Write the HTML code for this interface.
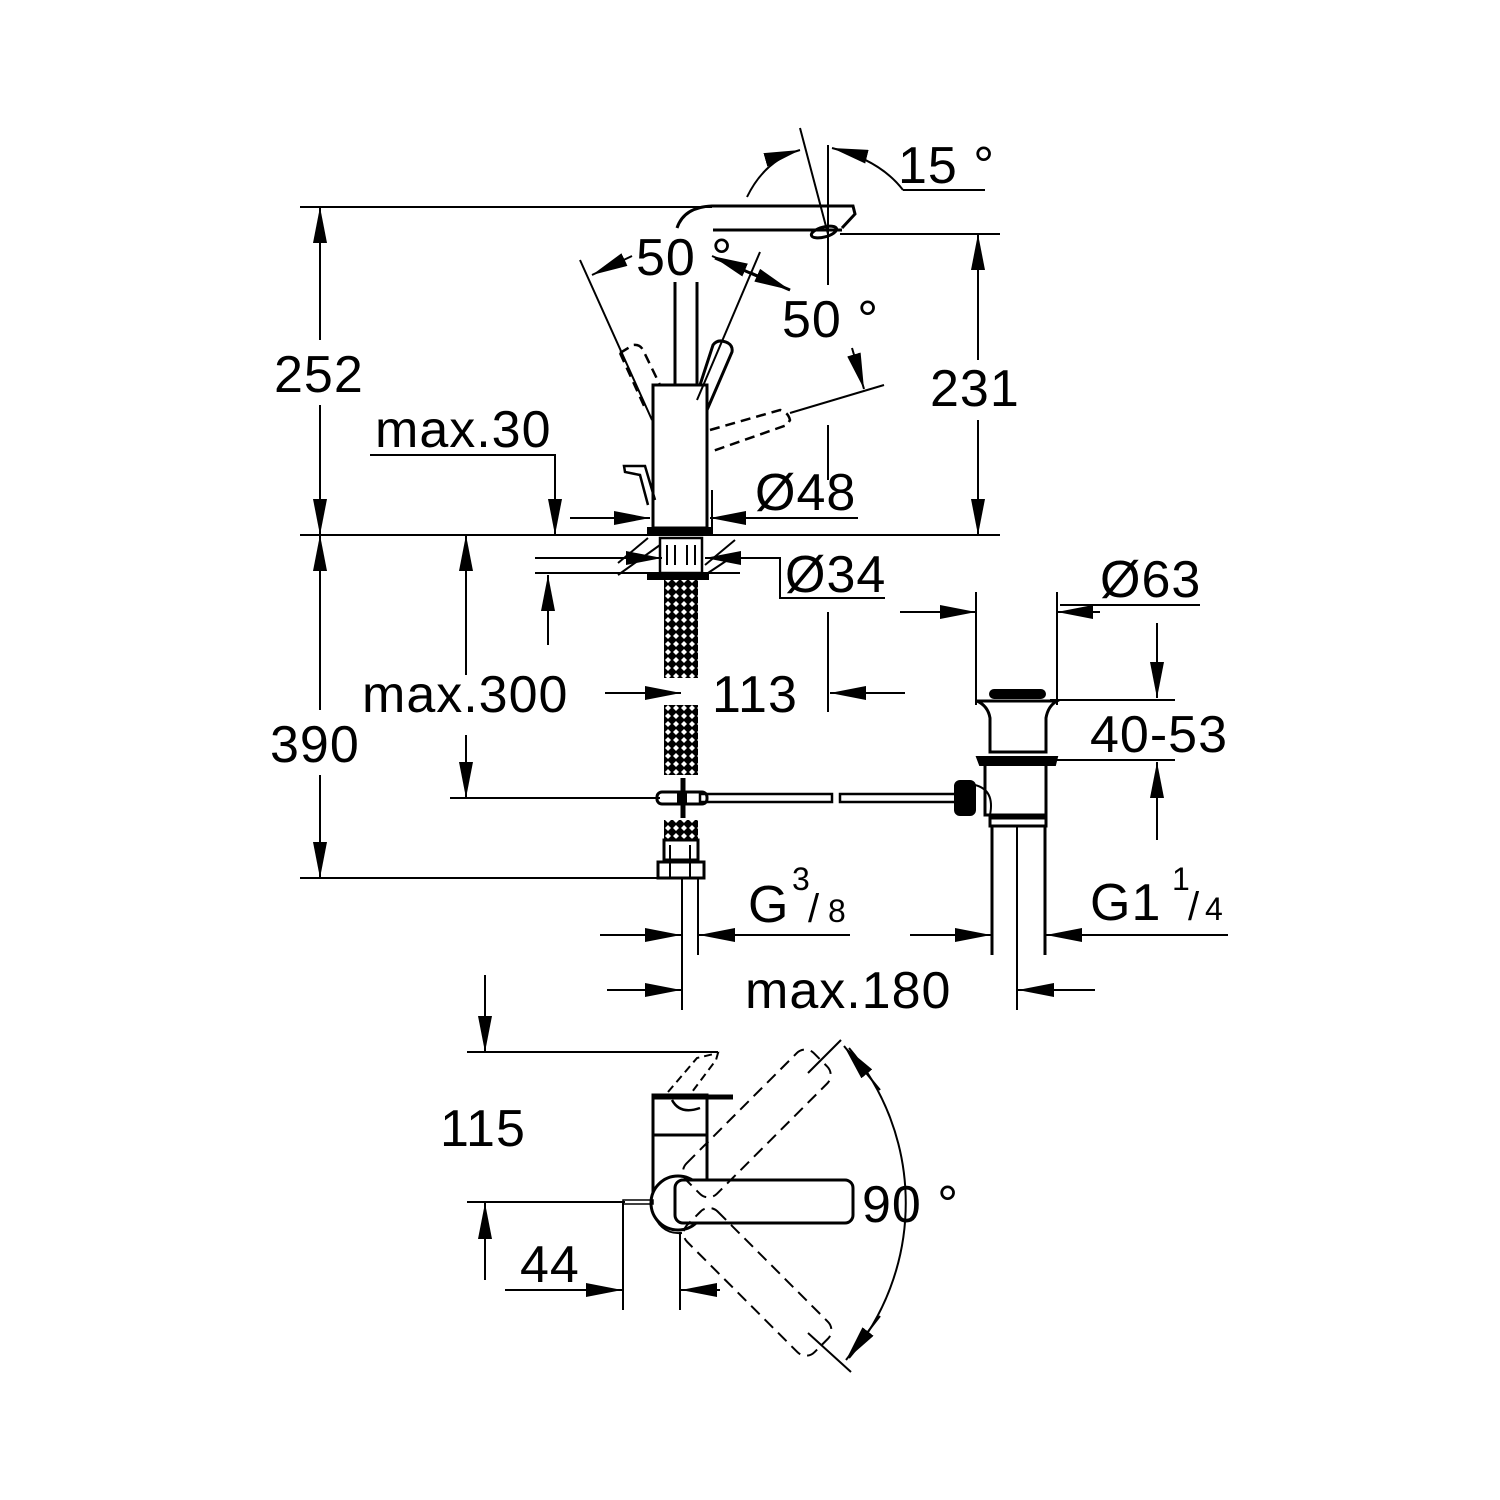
<!DOCTYPE html>
<html><head><meta charset="utf-8"><style>
html,body{margin:0;padding:0;background:#fff}
svg{display:block}
text{font-family:"Liberation Sans",sans-serif;font-size:52px;letter-spacing:1px;fill:#000}
</style></head><body>
<svg width="1500" height="1500" viewBox="0 0 1500 1500" xmlns="http://www.w3.org/2000/svg">
<defs>
<marker id="a" viewBox="0 0 36 14" refX="36" refY="7" markerWidth="36" markerHeight="14" markerUnits="userSpaceOnUse" orient="auto">
<path d="M0,0 L36,7 L0,14 Z" fill="#000"/></marker>
<pattern id="h" width="8" height="8" patternUnits="userSpaceOnUse">
<rect width="8" height="8" fill="#000"/><path d="M4,1 L7,4 L4,7 L1,4 Z" fill="#fff"/></pattern>
</defs>
<g stroke="#000" stroke-width="2" fill="none">
<line x1="300" y1="207" x2="712" y2="207"/>
<line x1="840" y1="234" x2="1000" y2="234"/>
<line x1="300" y1="535" x2="1000" y2="535"/>
<line x1="320" y1="340" x2="320" y2="207" marker-end="url(#a)"/>
<line x1="320" y1="405" x2="320" y2="535" marker-end="url(#a)"/>
<line x1="320" y1="710" x2="320" y2="535" marker-end="url(#a)"/>
<line x1="320" y1="775" x2="320" y2="878" marker-end="url(#a)"/>
<line x1="300" y1="878" x2="680" y2="878"/>
<line x1="978" y1="360" x2="978" y2="234" marker-end="url(#a)"/>
<line x1="978" y1="420" x2="978" y2="535" marker-end="url(#a)"/>
<line x1="466" y1="675" x2="466" y2="535" marker-end="url(#a)"/>
<line x1="466" y1="735" x2="466" y2="798" marker-end="url(#a)"/>
<line x1="450" y1="798" x2="660" y2="798"/>
<polyline points="370,455 555,455 555,535"/>
<line x1="555" y1="480" x2="555" y2="535" marker-end="url(#a)"/>
<line x1="535" y1="573" x2="740" y2="573"/>
<line x1="548" y1="645" x2="548" y2="575" marker-end="url(#a)"/>
<line x1="570" y1="518" x2="650" y2="518" marker-end="url(#a)"/>
<line x1="858" y1="518" x2="710" y2="518" marker-end="url(#a)"/>
<line x1="535" y1="558" x2="662" y2="558" marker-end="url(#a)"/>
<polyline points="885,598 780,598 780,558 705,558"/>
<line x1="745" y1="558" x2="705" y2="558" marker-end="url(#a)"/>
<line x1="605" y1="693" x2="681" y2="693" marker-end="url(#a)"/>
<line x1="905" y1="693" x2="830" y2="693" marker-end="url(#a)"/>
<line x1="828" y1="612" x2="828" y2="712"/>
<line x1="828" y1="145" x2="828" y2="285"/>
<line x1="828" y1="425" x2="828" y2="480"/>
<line x1="800" y1="128" x2="828" y2="234"/>
<path d="M747,197 Q765,160 800,150" marker-end="url(#a)"/>
<path d="M903,190 Q880,160 832,148" marker-end="url(#a)"/>
<line x1="903" y1="190" x2="985" y2="190"/>
<path d="M677,228 Q684,207 712,206 L853,206 L855,214 L842,228" stroke-width="3"/>
<line x1="713" y1="230" x2="842" y2="230" stroke-width="3"/>
<ellipse cx="824" cy="232" rx="13" ry="5" stroke-width="3" transform="rotate(-15 824 232)"/>
<line x1="675" y1="282" x2="675" y2="385" stroke-width="3"/>
<line x1="697" y1="282" x2="697" y2="385" stroke-width="3"/>
<rect x="653" y="385" width="54" height="143" stroke-width="3"/>
<rect x="648" y="528" width="64" height="6" fill="#000"/>
<line x1="580" y1="260" x2="652" y2="420"/>
<path d="M620,353 L633,345 Q640,344 643,350 L660,385" stroke-dasharray="10,6" stroke-width="2.5"/>
<path d="M620,353 L645,408" stroke-dasharray="10,6" stroke-width="2.5"/>
<line x1="760" y1="252" x2="697" y2="400"/>
<path d="M700,385 L713,345 Q718,338 728,343 Q733,346 732,352 L707,410" stroke-width="3"/>
<path d="M710,430 L780,410 Q788,412 790,420 L787,425 L710,452" stroke-dasharray="10,6" stroke-width="2.5"/>
<line x1="790" y1="413" x2="884" y2="385"/>
<line x1="852" y1="348" x2="864" y2="389" marker-end="url(#a)"/>
<line x1="715" y1="258" x2="790" y2="290" stroke-width="3"/>
<line x1="745" y1="270" x2="712" y2="256" marker-end="url(#a)"/>
<line x1="750" y1="272" x2="790" y2="290" marker-end="url(#a)"/>
<line x1="632" y1="256" x2="592" y2="275" marker-end="url(#a)"/>
<polyline points="648,505 640,475 625,472 624,466 645,466 655,500" stroke-width="2.5"/>
<line x1="712" y1="490" x2="712" y2="530"/>
<line x1="618" y1="563" x2="648" y2="538"/>
<line x1="618" y1="575" x2="660" y2="545"/>
<line x1="705" y1="565" x2="735" y2="540"/>
<line x1="705" y1="575" x2="738" y2="553"/>
<rect x="660" y="538" width="42" height="35" stroke-width="2.5"/>
<line x1="667" y1="545" x2="667" y2="565"/><line x1="675" y1="545" x2="675" y2="565"/>
<line x1="687" y1="545" x2="687" y2="565"/><line x1="695" y1="545" x2="695" y2="565"/>
<rect x="648" y="573" width="60" height="6" fill="#000"/>
<rect x="664" y="580" width="34" height="98" fill="url(#h)" stroke="none"/>
<rect x="664" y="705" width="34" height="70" fill="url(#h)" stroke="none"/>
<rect x="664" y="820" width="34" height="20" fill="url(#h)" stroke="none"/>
<line x1="683" y1="778" x2="683" y2="818" stroke-width="5"/>
<rect x="657" y="792" width="50" height="12" rx="5" stroke-width="3"/>
<rect x="678" y="792" width="8" height="12" fill="#000"/>
<rect x="664" y="840" width="34" height="20" stroke-width="3"/>
<rect x="658" y="862" width="46" height="16" stroke-width="3"/>
<line x1="670" y1="845" x2="670" y2="877"/><line x1="690" y1="845" x2="690" y2="877"/>
<line x1="682" y1="878" x2="682" y2="955"/><line x1="698" y1="878" x2="698" y2="955"/>
<rect x="700" y="794" width="132" height="8" stroke-width="2.5"/>
<rect x="840" y="794" width="116" height="8" stroke-width="2.5"/>
<rect x="955" y="781" width="20" height="34" rx="5" fill="#000"/>
<line x1="976" y1="592" x2="976" y2="705"/>
<line x1="1057" y1="592" x2="1057" y2="705"/>
<line x1="900" y1="612" x2="976" y2="612" marker-end="url(#a)"/>
<line x1="1100" y1="612" x2="1057" y2="612" marker-end="url(#a)"/>
<line x1="1060" y1="605" x2="1200" y2="605"/>
<rect x="990" y="690" width="55" height="8" rx="4" fill="#000"/>
<path d="M977,701 L1057,701 Q1048,706 1046,718 L1046,752 L990,752 L990,718 Q988,706 977,701" stroke-width="3"/>
<path d="M977,757 L1057,757 L1055,765 L980,765 Z" fill="#000"/>
<path d="M985,765 L985,815 L1046,815 L1046,765" stroke-width="3"/>
<path d="M975,785 Q995,790 990,815" stroke-width="2"/>
<rect x="990" y="818" width="56" height="8" stroke-width="3"/>
<line x1="992" y1="826" x2="992" y2="955" stroke-width="3"/>
<line x1="1045" y1="826" x2="1045" y2="955" stroke-width="3"/>
<line x1="1017" y1="826" x2="1017" y2="1010"/>
<line x1="1050" y1="700" x2="1175" y2="700"/>
<line x1="1050" y1="760" x2="1175" y2="760"/>
<line x1="1157" y1="623" x2="1157" y2="698" marker-end="url(#a)"/>
<line x1="1157" y1="840" x2="1157" y2="762" marker-end="url(#a)"/>
<line x1="600" y1="935" x2="681" y2="935" marker-end="url(#a)"/>
<line x1="850" y1="935" x2="699" y2="935" marker-end="url(#a)"/>
<line x1="910" y1="935" x2="991" y2="935" marker-end="url(#a)"/>
<line x1="1228" y1="935" x2="1046" y2="935" marker-end="url(#a)"/>
<line x1="682" y1="955" x2="682" y2="1010"/>
<line x1="607" y1="990" x2="681" y2="990" marker-end="url(#a)"/>
<line x1="1095" y1="990" x2="1018" y2="990" marker-end="url(#a)"/>
<line x1="485" y1="975" x2="485" y2="1052" marker-end="url(#a)"/>
<line x1="467" y1="1052" x2="718" y2="1052"/>
<line x1="467" y1="1202" x2="625" y2="1202"/>
<line x1="485" y1="1280" x2="485" y2="1203" marker-end="url(#a)"/>
<line x1="623" y1="1202" x2="623" y2="1310"/>
<line x1="680" y1="1232" x2="680" y2="1310"/>
<line x1="505" y1="1290" x2="622" y2="1290" marker-end="url(#a)"/>
<line x1="720" y1="1290" x2="681" y2="1290" marker-end="url(#a)"/>
<path d="M668,1092 L697,1058 L718,1053 L716,1060 L692,1092" stroke-dasharray="8,5"/>
<rect x="653" y="1095" width="54" height="100" stroke-width="3"/>
<line x1="653" y1="1097" x2="733" y2="1097" stroke-width="5"/>
<line x1="653" y1="1135" x2="707" y2="1135" stroke-width="3"/>
<path d="M672,1100 Q680,1115 700,1108" stroke-width="2.5"/>
<circle cx="678" cy="1203" r="27" stroke-width="3" fill="#fff"/>
<path d="M652,1210 Q660,1235 682,1233" stroke-width="2"/>
<rect x="675" y="1180" width="178" height="43" rx="8" stroke-width="3" fill="#fff"/>
<rect x="623" y="1200" width="30" height="4" stroke-width="1.5"/>
<g transform="rotate(-45 678 1203)" stroke-dasharray="12,7"><rect x="700" y="1181" width="180" height="43" rx="12"/></g>
<g transform="rotate(45 678 1203)" stroke-dasharray="12,7"><rect x="700" y="1181" width="180" height="43" rx="12"/></g>
<line x1="808" y1="1073" x2="841" y2="1040"/>
<line x1="808" y1="1333" x2="851" y2="1372"/>
<path d="M849,1048 A240,240 0 0 1 849,1358" />
<line x1="880" y1="1090" x2="844" y2="1046" marker-end="url(#a)"/>
<line x1="880" y1="1316" x2="846" y2="1360" marker-end="url(#a)"/>
</g>
<text x="274" y="392">252</text>
<text x="930" y="406">231</text>
<text x="375" y="447">max.30</text>
<text x="755" y="510">Ø48</text>
<text x="785" y="592">Ø34</text>
<text x="1100" y="597">Ø63</text>
<text x="362" y="712">max.300</text>
<text x="712" y="712">113</text>
<text x="270" y="762">390</text>
<text x="1090" y="752">40-53</text>
<text x="748" y="922">G</text>
<text x="792" y="890" style="font-size:32px">3</text>
<text x="808" y="922" style="font-size:40px">/</text>
<text x="828" y="922" style="font-size:32px">8</text>
<text x="1090" y="920">G1</text>
<text x="1172" y="890" style="font-size:32px">1</text>
<text x="1188" y="920" style="font-size:40px">/</text>
<text x="1205" y="920" style="font-size:32px">4</text>
<text x="745" y="1008">max.180</text>
<text x="440" y="1146">115</text>
<text x="862" y="1222">90 °</text>
<text x="520" y="1282">44</text>
<text x="898" y="183">15 °</text>
<text x="636" y="275">50 °</text>
<text x="782" y="337">50 °</text>
</svg>
</body></html>
